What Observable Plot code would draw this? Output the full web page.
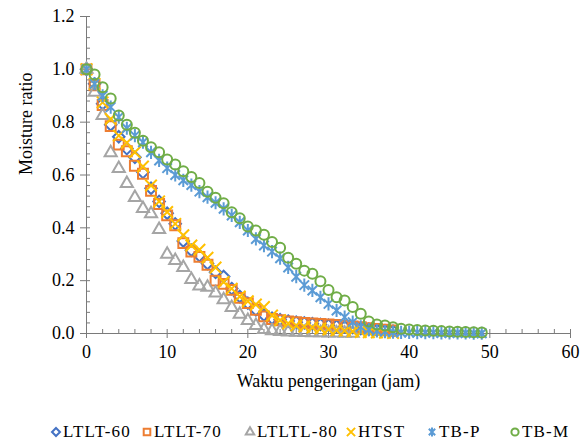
<!DOCTYPE html>
<html><head><meta charset="utf-8">
<style>
body{margin:0;background:#fff;font-family:"Liberation Serif",serif;}
#legend{position:relative;height:40px;font-size:17px;letter-spacing:1.2px;color:#000;font-family:"Liberation Serif",serif;}
.item{position:absolute;top:17px;display:flex;align-items:center;white-space:nowrap;}
.item svg{margin-right:1px;}
</style>
<script src="https://cdn.jsdelivr.net/npm/d3@7"></script>
<script src="https://cdn.jsdelivr.net/npm/@observablehq/plot@0.6"></script>
</head><body><div id="chart"></div><div id="legend"></div>
<script>
const seriesNames = ["LTLT-60", "LTLT-70", "LTLTL-80", "HTST", "TB-P", "TB-M"];
const seriesColors = ["#4472C4", "#ED7D31", "#A5A5A5", "#FFC000", "#5B9BD5", "#70AD47"];

const ltlt60 = [1.0, 0.945, 0.87, 0.79, 0.745, 0.70, 0.667, 0.61, 0.55, 0.50, 0.455, 0.415, 0.35, 0.315, 0.295, 0.265, 0.232, 0.216, 0.17, 0.14, 0.115, 0.09, 0.07, 0.058, 0.052, 0.047, 0.043, 0.04, 0.037, 0.034, 0.031, 0.028, 0.025, 0.022, 0.019, 0.016, 0.013, 0.011, 0.009];
const ltlt70 = [1.0, 0.94, 0.865, 0.785, 0.715, 0.69, 0.635, 0.605, 0.54, 0.49, 0.447, 0.41, 0.342, 0.31, 0.29, 0.26, 0.20, 0.188, 0.165, 0.135, 0.115, 0.09, 0.065, 0.055, 0.05, 0.046, 0.043, 0.04, 0.038, 0.036, 0.034, 0.032, 0.03, 0.027, 0.024, 0.02, 0.017, 0.014, 0.012];
const ltltl80 = [1.0, 0.913, 0.825, 0.684, 0.625, 0.568, 0.515, 0.473, 0.453, 0.394, 0.30, 0.276, 0.25, 0.204, 0.18, 0.175, 0.153, 0.128, 0.098, 0.073, 0.049, 0.03, 0.015, 0.01, 0.008, 0.006, 0.005, 0.004, 0.003, 0.003, 0.002, 0.002, 0.001, 0.001];
const htst = [1.0, 0.945, 0.875, 0.812, 0.749, 0.722, 0.686, 0.632, 0.56, 0.50, 0.46, 0.415, 0.372, 0.333, 0.317, 0.287, 0.25, 0.195, 0.17, 0.14, 0.122, 0.11, 0.10, 0.068, 0.05, 0.038, 0.03, 0.026, 0.023, 0.019, 0.015, 0.012, 0.01, 0.008, 0.006, 0.005, 0.004, 0.003, 0.002];
const tbP = [1.0, 0.945, 0.90, 0.857, 0.819, 0.777, 0.749, 0.724, 0.686, 0.655, 0.626, 0.60, 0.58, 0.562, 0.537, 0.516, 0.495, 0.472, 0.447, 0.421, 0.39, 0.358, 0.333, 0.31, 0.285, 0.25, 0.215, 0.183, 0.163, 0.137, 0.112, 0.087, 0.062, 0.043, 0.025, 0.015, 0.01, 0.007, 0.005, 0.004, 0.004, 0.003, 0.003, 0.003, 0.002, 0.002, 0.002, 0.002, 0.001, 0.001];
const tbM = [1.0, 0.98, 0.932, 0.89, 0.825, 0.79, 0.76, 0.73, 0.705, 0.686, 0.659, 0.64, 0.614, 0.592, 0.57, 0.537, 0.514, 0.493, 0.459, 0.436, 0.405, 0.39, 0.374, 0.346, 0.325, 0.287, 0.264, 0.238, 0.226, 0.198, 0.165, 0.137, 0.125, 0.10, 0.075, 0.045, 0.034, 0.03, 0.024, 0.018, 0.015, 0.013, 0.011, 0.01, 0.009, 0.008, 0.007, 0.006, 0.005, 0.004];

const xTicks = [0, 10, 20, 30, 40, 50, 60];
const yTicks = [0, 0.2, 0.4, 0.6, 0.8, 1.0, 1.2];
const xMinor = d3.range(0, 31).map(i => i * 2);
const yMinor = d3.range(0, 31).map(i => +(i * 0.04).toFixed(2));

const asterisk = {draw(ctx, size) {
  const r = Math.sqrt(size / Math.PI), a = r * 0.72;
  ctx.moveTo(-a, -a); ctx.lineTo(a, a);
  ctx.moveTo(-a, a); ctx.lineTo(a, -a);
  ctx.moveTo(0, -r); ctx.lineTo(0, r);
}};
const symbols = [d3.symbolDiamond2, d3.symbolSquare2, d3.symbolTriangle2, d3.symbolTimes, asterisk, d3.symbolCircle];
const radii = [5.2, 6.3, 5.8, 5.3, 6.6, 5.0];
const allValues = [ltlt60, ltlt70, ltltl80, htst, tbP, tbM];

const serif = "'Liberation Serif', serif";
const axisColor = "#7a7a7a";

function draw() {
  const rows = allValues.map((vals, s) => vals.map((v, i) => ({t: i, v, s})));
  const chart = Plot.plot({
    width: 587, height: 405,
    marginLeft: 86, marginRight: 17, marginTop: 16, marginBottom: 72,
    style: {fontFamily: serif, fontSize: "18px", color: "#000", background: "#fff"},
    x: {domain: [0, 60]},
    y: {domain: [0, 1.2]},
    marks: [
      Plot.axisY({ticks: yTicks, tickFormat: d => d.toFixed(1), tickSize: 6, tickPadding: 6, stroke: axisColor, label: null, fontFamily: serif, fontSize: 18}),
      Plot.axisY({ticks: yMinor, tickFormat: () => "", tickSize: 4, dx: 4, stroke: axisColor, label: null}),
      Plot.axisX({ticks: xTicks, tickSize: 5, tickPadding: 7, stroke: axisColor, label: null, fontFamily: serif, fontSize: 18}),
      Plot.axisX({ticks: xMinor, tickFormat: () => "", tickSize: 4, dy: -4, stroke: axisColor, label: null}),
      Plot.ruleX([0], {stroke: axisColor}),
      Plot.ruleY([0], {stroke: axisColor}),
      ...rows.map((data, s) => Plot.dot(data, {
        x: "t", y: "v", symbol: symbols[s], r: radii[s],
        fill: "none", stroke: seriesColors[s], strokeWidth: 2
      })),
      Plot.text(["Waktu pengeringan (jam)"], {frameAnchor: "bottom", dy: 53, fontSize: 18, fontFamily: serif}),
      Plot.text(["Moisture ratio"], {frameAnchor: "left", dx: -60, rotate: -90, fontSize: 18, fontFamily: serif})
    ]
  });
  chart.querySelectorAll("text").forEach(t => { t.setAttribute("font-family", serif); t.style.fontFamily = serif; });
  document.getElementById("chart").appendChild(chart);

  const legendCenters = [56, 147, 250, 351, 432, 515];
  const legend = document.getElementById("legend");
  seriesNames.forEach((name, s) => {
    const item = document.createElement("div");
    item.className = "item";
    item.style.left = (legendCenters[s] - 6) + "px";
    item.style.fontFamily = serif;
    const r = [3.6, 4.2, 4.0, 3.8, 4.4, 3.6][s];
    const path = d3.symbol(symbols[s], Math.PI * r * r)();
    item.innerHTML = `<svg width="12" height="14" viewBox="-6 -7 12 14"><path d="${path}" fill="none" stroke="${seriesColors[s]}" stroke-width="2"/></svg><span>${name}</span>`;
    legend.appendChild(item);
  });
}
if (document.fonts && document.fonts.load) {
  document.fonts.load("18px 'Liberation Serif'").then(draw, draw);
} else draw();
</script></body></html>
